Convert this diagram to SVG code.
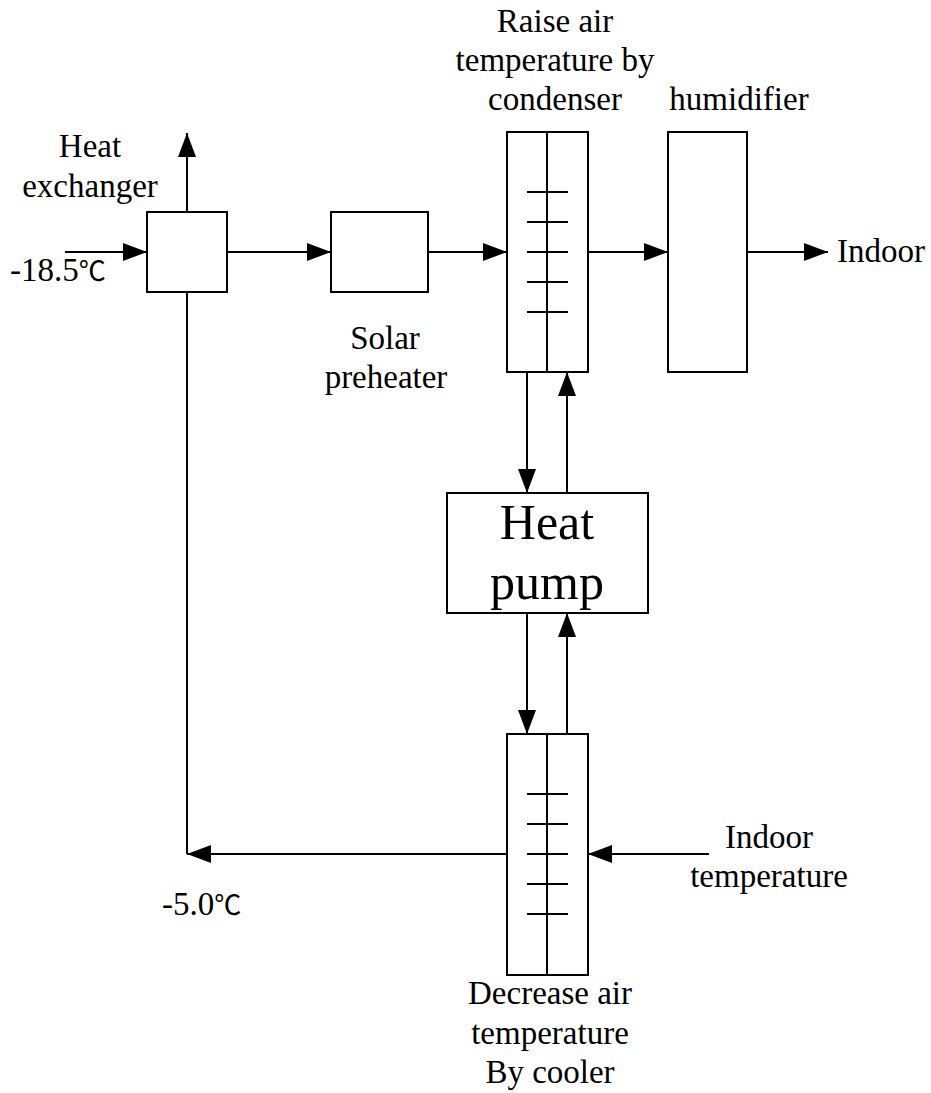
<svg xmlns="http://www.w3.org/2000/svg" width="931" height="1093" viewBox="0 0 931 1093">
<style>
.box{fill:#fff;stroke:#000;stroke-width:2}
.ln{fill:none;stroke:#000;stroke-width:2}
.c{stroke:#000;stroke-width:2;fill:none}
.arr{marker-end:url(#ah)}
text{font-family:'Liberation Serif','Times New Roman','DejaVu Serif',serif;font-size:33px;fill:#000}
.deg{font-family:'Noto Sans CJK SC','Liberation Serif',serif;font-size:27px}
.m{text-anchor:middle}
.big{font-size:50px}
</style>
<defs>
<marker id="ah" markerUnits="userSpaceOnUse" markerWidth="26" markerHeight="20" refX="24" refY="9" orient="auto">
<path d="M0,0 L24,9 L0,18 z" fill="#000"/>
</marker>
</defs>
<rect width="931" height="1093" fill="#fff"/>
<g id="connectors">
<path class="c arr" d="M65,252 H147"/>
<path class="c arr" d="M187,212 V133"/>
<path class="c arr" d="M227,252 H331"/>
<path class="c arr" d="M428,252 H507"/>
<path class="c arr" d="M588,252 H668"/>
<path class="c arr" d="M747,252 H828"/>
<path class="c arr" d="M527,372 V493"/>
<path class="c arr" d="M567,493 V372"/>
<path class="c arr" d="M527,613 V734"/>
<path class="c arr" d="M567,734 V613"/>
<path class="c arr" d="M709,854 H588"/>
<path class="c arr" d="M507,854 H187"/>
<path class="c" d="M187,854 V292"/>
</g>
<g id="heat-exchanger">
<rect class="box" x="147" y="212" width="80" height="80"/>
<text class="m" x="90" y="157">Heat</text>
<text class="m" x="90" y="197">exchanger</text>
</g>
<g id="inlet-label">
<text x="10" y="281">-18.5<tspan class="deg">℃</tspan></text>
</g>
<g id="solar-preheater">
<rect class="box" x="331" y="212" width="97" height="80"/>
<text class="m" x="385" y="349">Solar</text>
<text class="m" x="386" y="388">preheater</text>
</g>
<g id="condenser">
<rect class="box" x="507" y="132" width="81" height="240"/>
<path class="ln" d="M547,132 V372 M527,192 H568 M527,222 H568 M527,252 H568 M527,282 H568 M527,312 H568"/>
<text class="m" x="555" y="32">Raise air</text>
<text class="m" x="555" y="71">temperature by</text>
<text class="m" x="555" y="110">condenser</text>
</g>
<g id="humidifier">
<rect class="box" x="668" y="132" width="79" height="240"/>
<text class="m" x="739" y="110">humidifier</text>
</g>
<g id="indoor-out">
<text x="837" y="262">Indoor</text>
</g>
<g id="heat-pump">
<rect class="box" x="447" y="493" width="201" height="120"/>
<text class="m big" x="547" y="539">Heat</text>
<text class="m big" x="547" y="599">pump</text>
</g>
<g id="cooler">
<rect class="box" x="507" y="734" width="81" height="241"/>
<path class="ln" d="M547,734 V975 M527,794 H568 M527,824 H568 M527,854 H568 M527,884 H568 M527,914 H568"/>
<text class="m" x="550" y="1004">Decrease air</text>
<text class="m" x="550" y="1044">temperature</text>
<text class="m" x="550" y="1083">By cooler</text>
</g>
<g id="indoor-temp">
<text class="m" x="769" y="848">Indoor</text>
<text class="m" x="769" y="887">temperature</text>
</g>
<g id="outlet-label">
<text x="162" y="915">-5.0<tspan class="deg">℃</tspan></text>
</g>
</svg>
